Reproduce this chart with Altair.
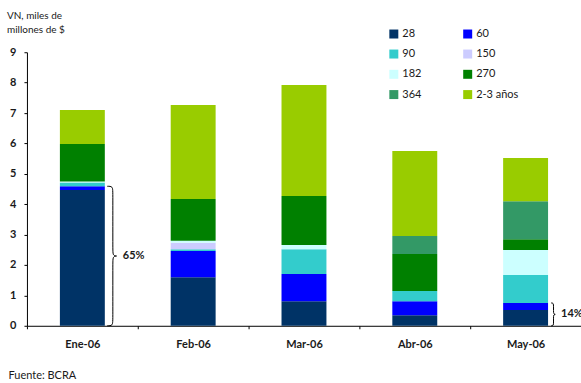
import altair as alt
import pandas as pd

# Monthly placement of Letras by term (nominal value, thousand million $)
months = ["Ene-06", "Feb-06", "Mar-06", "Abr-06", "May-06"]
terms = ["28", "60", "90", "150", "182", "270", "364", "2-3 años"]
term_colors = ["#003366", "#0000FF", "#33CCCC", "#CCCCFF",
               "#CCFFFF", "#008000", "#339966", "#99CC00"]

v28 = [4.47, 1.60, 0.81, 0.35, 0.52]
v60 = [0.12, 0.86, 0.89, 0.46, 0.23]
v90 = [0.12, 0.06, 0.82, 0.33, 0.92]
v150 = [0.00, 0.21, 0.00, 0.00, 0.00]
v182 = [0.04, 0.07, 0.14, 0.00, 0.82]
v270 = [1.23, 1.37, 1.61, 1.22, 0.36]
v364 = [0.00, 0.00, 0.00, 0.59, 1.25]
v2a3 = [1.12, 3.09, 3.65, 2.80, 1.42]
series = [v28, v60, v90, v150, v182, v270, v364, v2a3]
y_ticks = list(range(10))

# Braces: share of the short terms (28 + 60 days) in the month total
brace_months = ["Ene-06", "May-06"]
brace_x = [(0.725, 0.775, 0.825), (0.73, 0.752, 0.775)]
brace_label_x = [0.865, 0.82]

FONT = "Lato"
TEXT = "#1a1a1a"

rows = []
for k, (term, vals) in enumerate(zip(terms, series)):
    for m, v in zip(months, vals):
        if v > 0:
            rows.append({"mes": m, "plazo": term, "orden": k, "valor": v})
bars_df = pd.DataFrame(rows)

# The legend grid fills column by column; this order reads row by row
legend_order = terms[0::2] + terms[1::2]
legend_colors = [term_colors[terms.index(t)] for t in legend_order]

brace_rows, label_rows = [], []
for m, (xa, xb, xc), lx in zip(brace_months, brace_x, brace_label_x):
    j = months.index(m)
    top = v28[j] + v60[j]
    total = sum(s[j] for s in series)
    y0, y1 = 0.0, top
    ym = (y0 + y1) / 2
    r = min(0.2, (y1 - y0) / 6)
    pts = [(xa, y1), (xb, y1), (xb, y1 - r), (xb, ym + r), (xb, ym), (xc, ym),
           (xb, ym), (xb, ym - r), (xb, y0 + r), (xb, y0), (xa, y0)]
    for i, (px, py) in enumerate(pts):
        brace_rows.append({"mes": m, "fx": px, "y": py, "i": i})
    label_rows.append({"mes": m, "fx": lx, "y": ym,
                       "txt": f"{round(100 * top / total)}%"})
brace_df = pd.DataFrame(brace_rows)
label_df = pd.DataFrame(label_rows)

x_enc = alt.X(
    "mes:N", sort=months,
    scale=alt.Scale(paddingInner=0, paddingOuter=0),
    axis=alt.Axis(
        title="Fuente: BCRA", titleAnchor="start", titleX=-19, titleY=50,
        titleAlign="left", titleBaseline="middle", titleFontWeight="normal",
        titleFontSize=11, titleFont=FONT, titleColor=TEXT,
        labelAngle=0, labelFont=FONT, labelFontSize=11, labelFontWeight="bold",
        labelColor=TEXT, labelPadding=10, tickBand="extent", tickSize=3,
        tickColor="#000", domainColor="#000", grid=False,
    ),
)
y_scale = alt.Scale(domain=[0, 9], nice=False)
y_axis = alt.Axis(title=None, values=y_ticks, labelOverlap=False,
                  labelFont=FONT, labelFontSize=11, labelFontWeight="bold",
                  labelColor=TEXT, labelPadding=8, tickSize=3,
                  tickColor="#000", domainColor="#000", grid=False)

bars = alt.Chart(bars_df).mark_bar(size=45).encode(
    x=x_enc,
    y=alt.Y("valor:Q", stack="zero", scale=y_scale, axis=y_axis),
    color=alt.Color("plazo:N",
                    scale=alt.Scale(domain=legend_order, range=legend_colors),
                    legend=alt.Legend(orient="none", legendX=362, legendY=-24,
                                      columns=2, title=None, symbolType="square",
                                      symbolSize=81, symbolStrokeWidth=0,
                                      labelFont=FONT, labelFontSize=11,
                                      labelColor=TEXT, rowPadding=8.3,
                                      columnPadding=40, labelOffset=3)),
    order=alt.Order("orden:Q"),
)

braces = alt.Chart(brace_df).mark_line(
    interpolate="basis", color="#000", strokeWidth=1
).encode(
    x=x_enc,
    xOffset=alt.XOffset("fx:Q", scale=alt.Scale(domain=[0, 1])),
    y=alt.Y("y:Q", scale=y_scale, axis=y_axis),
    detail="mes:N",
    order="i:Q",
)

labels = alt.Chart(label_df).mark_text(
    align="left", baseline="middle", font=FONT, fontSize=11,
    fontWeight="bold", color=TEXT
).encode(
    x=x_enc,
    xOffset=alt.XOffset("fx:Q", scale=alt.Scale(domain=[0, 1])),
    y=alt.Y("y:Q", scale=y_scale, axis=y_axis),
    text="txt:N",
)

chart = alt.layer(bars, braces, labels).properties(
    width=555, height=274,
    autosize=alt.AutoSizeParams(type="none"),
    padding={"left": 27, "top": 52, "right": 0, "bottom": 57},
    title=alt.TitleParams(["VN, miles de", "millones de $"], anchor="start",
                          frame="group", dx=-20, dy=25, offset=18, fontSize=10,
                          fontWeight="normal", font=FONT, color=TEXT,
                          lineHeight=14),
).configure_view(stroke=None)

chart.save("out.html", embed_options={"renderer": "svg", "actions": False})
